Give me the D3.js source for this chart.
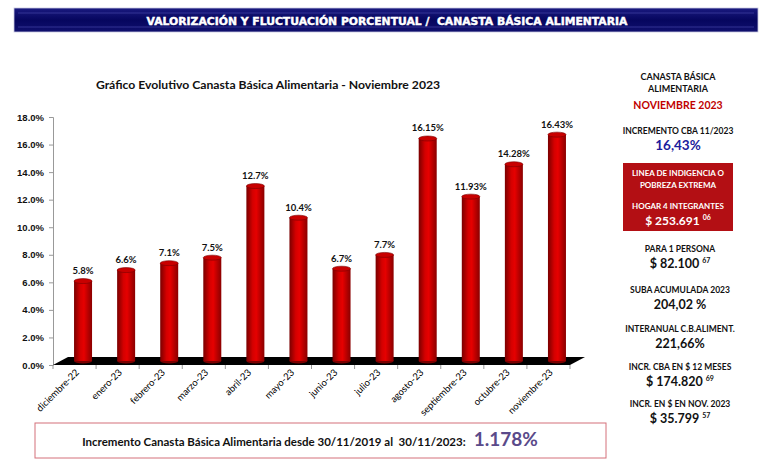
<head>
<script src="https://d3js.org/d3.v7.min.js"></script>
<style>
  body { margin: 0; background: #fff; }
  svg { font-family: Lato, "Open Sans", sans-serif; display: block; }
  .axis path { stroke: #999; }
  .axis line { stroke: #999; }
  .y.axis text { font-weight: bold; font-size: 9.5px; fill: #111; }
  .x.axis text { font-size: 9.5px; fill: #000; }
  .pre { white-space: pre; }
</style>
</head>
<body>
<svg id="chart"></svg>
<script>
// data
var months = ["diciembre-22", "enero-23", "febrero-23", "marzo-23", "abril-23", "mayo-23",
              "junio-23", "julio-23", "agosto-23", "septiembre-23", "octubre-23", "noviembre-23"];
var values = [5.8, 6.6, 7.1, 7.5, 12.7, 10.4, 6.7, 7.7, 16.15, 11.93, 14.28, 16.43];
var valueLabels = ["5.8%", "6.6%", "7.1%", "7.5%", "12.7%", "10.4%", "6.7%", "7.7%",
                   "16.15%", "11.93%", "14.28%", "16.43%"];
var yTicks = [0, 2, 4, 6, 8, 10, 12, 14, 16, 18];

var headerText = "VALORIZACIÓN Y FLUCTUACIÓN PORCENTUAL /  CANASTA BÁSICA ALIMENTARIA";
var chartTitle = "Gráfico Evolutivo Canasta Básica Alimentaria - Noviembre 2023";
var footerLabel = "Incremento Canasta Básica Alimentaria desde 30/11/2019 al  30/11/2023:";
var footerValue = "1.178%";

// right panel: [label, value, superscript]
var panelTop = ["CANASTA BÁSICA", "ALIMENTARIA"];
var panelMonth = "NOVIEMBRE 2023";
var panelIncr = ["INCREMENTO CBA 11/2023", "16,43%"];
var boxLines = ["LINEA DE INDIGENCIA O", "POBREZA EXTREMA", "HOGAR 4 INTEGRANTES"];
var boxValue = ["$ 253.691", "06"];
var panelItems = [
  ["PARA 1 PERSONA", "$ 82.100", "67"],
  ["SUBA ACUMULADA 2023", "204,02 %", ""],
  ["INTERANUAL C.B.ALIMENT.", "221,66%", ""],
  ["INCR. CBA EN $ 12 MESES", "$ 174.820", "69"],
  ["INCR. EN $ EN NOV. 2023", "$ 35.799", "57"]
];

var W = 760, H = 462;
var svg = d3.select("#chart").attr("width", W).attr("height", H);
var defs = svg.append("defs");

// header band
var hg = defs.append("linearGradient").attr("id", "hdr").attr("x1", 0).attr("x2", 0).attr("y1", 0).attr("y2", 1);
hg.append("stop").attr("offset", "0%").attr("stop-color", "#1a1a80");
hg.append("stop").attr("offset", "50%").attr("stop-color", "#06065e");
hg.append("stop").attr("offset", "100%").attr("stop-color", "#10106e");
svg.append("rect").attr("x", 14).attr("y", 8).attr("width", 744).attr("height", 24)
  .attr("fill", "url(#hdr)").attr("stroke", "#c8c8e0").attr("stroke-width", 0.8);
svg.append("line").attr("x1", 18).attr("x2", 754).attr("y1", 13).attr("y2", 13)
  .attr("stroke", "#3c3ca0").attr("stroke-width", 0.8);
svg.append("line").attr("x1", 18).attr("x2", 754).attr("y1", 27).attr("y2", 27)
  .attr("stroke", "#3c3ca0").attr("stroke-width", 0.8);
svg.append("text").attr("class", "pre").attr("x", 387).attr("y", 24.5).attr("text-anchor", "middle")
  .attr("fill", "#fff").attr("stroke", "#fff").attr("stroke-width", 0.45)
  .style("font-family", "'DejaVu Sans', sans-serif")
  .style("font-weight", "bold").style("font-size", "10.8px")
  .text(headerText);

// chart title
svg.append("text").attr("x", 268).attr("y", 89).attr("text-anchor", "middle")
  .style("font-weight", "bold").style("font-size", "12.2px").attr("fill", "#111")
  .text(chartTitle);

var x = d3.scaleBand().domain(months).range([53, 570]);
var y = d3.scaleLinear().domain([0, 18]).range([365, 117]);
var depthX = 15, depthY = -8;

// y axis
svg.append("g").attr("class", "y axis")
  .attr("transform", "translate(53,0)")
  .call(d3.axisLeft(y).tickValues(yTicks).tickSize(4).tickPadding(5)
    .tickFormat(function(d) { return d3.format(".1f")(d) + "%"; }));

// floor
var x0 = x.range()[0], x1 = x.range()[1], yb = y(0);
svg.append("polygon")
  .attr("points", [[x0, yb], [x1, yb], [x1 + depthX, yb + depthY], [x0 + depthX, yb + depthY]].join(" "))
  .attr("fill", "#000");

// x axis ticks at band boundaries
var xa = svg.append("g").attr("class", "x axis");
xa.selectAll("line").data(months.concat([null])).enter().append("line")
  .attr("x1", function(d, i) { return x0 + i * x.bandwidth(); })
  .attr("x2", function(d, i) { return x0 + i * x.bandwidth(); })
  .attr("y1", yb).attr("y2", yb + 4);
xa.selectAll("text").data(months).enter().append("text")
  .attr("text-anchor", "end")
  .attr("transform", function(d) {
    return "translate(" + (x(d) + x.bandwidth() / 2 + 5) + "," + (yb + 8) + ") rotate(-45)";
  })
  .text(function(d) { return d; });

// cylinder bars
var cg = defs.append("linearGradient").attr("id", "cyl");
cg.append("stop").attr("offset", "0%").attr("stop-color", "#7a0000");
cg.append("stop").attr("offset", "35%").attr("stop-color", "#d40000");
cg.append("stop").attr("offset", "55%").attr("stop-color", "#e60000");
cg.append("stop").attr("offset", "100%").attr("stop-color", "#8a0000");

var bw = 18, ry = 2.5;
var bars = svg.append("g").selectAll("g").data(values).enter().append("g");
function cx(i) { return x(months[i]) + x.bandwidth() / 2 + depthX / 2 + 1; }
bars.append("ellipse")
  .attr("cx", function(d, i) { return cx(i); })
  .attr("cy", yb + depthY / 2)
  .attr("rx", bw / 2).attr("ry", ry).attr("fill", "#7a0000");
bars.append("rect")
  .attr("x", function(d, i) { return cx(i) - bw / 2; })
  .attr("y", function(d) { return y(d) + depthY / 2; })
  .attr("width", bw)
  .attr("height", function(d) { return yb - y(d); })
  .attr("fill", "url(#cyl)");
bars.append("ellipse")
  .attr("cx", function(d, i) { return cx(i); })
  .attr("cy", function(d) { return y(d) + depthY / 2; })
  .attr("rx", bw / 2).attr("ry", ry)
  .attr("fill", "#c80000").attr("stroke", "#7a0000").attr("stroke-width", 0.6);
bars.append("text")
  .attr("x", function(d, i) { return cx(i); })
  .attr("y", function(d) { return y(d) + depthY / 2 - 7; })
  .attr("text-anchor", "middle")
  .style("font-weight", "bold").style("font-size", "9.5px").attr("fill", "#111")
  .text(function(d, i) { return valueLabels[i]; });

// right panel
var px = 678;
var p = svg.append("g").attr("text-anchor", "middle").style("font-weight", "bold");
p.selectAll(".pt").data(panelTop).enter().append("text")
  .attr("x", px).attr("y", function(d, i) { return 80 + i * 12; })
  .style("font-size", "9px").attr("fill", "#111").text(function(d) { return d; });
p.append("text").attr("x", px).attr("y", 109).style("font-size", "10.5px")
  .attr("fill", "#c00000").text(panelMonth);
p.append("text").attr("x", px).attr("y", 134).style("font-size", "8.5px")
  .attr("fill", "#111").text(panelIncr[0]);
p.append("text").attr("x", px).attr("y", 150).style("font-size", "13.5px")
  .attr("fill", "#1c1c9c").text(panelIncr[1]);

p.append("rect").attr("x", 623).attr("y", 163).attr("width", 110).attr("height", 68)
  .attr("fill", "#b30f14");
p.selectAll(".bl").data(boxLines).enter().append("text")
  .attr("x", px).attr("y", function(d, i) { return [176, 188, 209][i]; })
  .style("font-size", "8px").attr("fill", "#fff").text(function(d) { return d; });
var bv = p.append("text").attr("x", px).attr("y", 225).style("font-size", "12px").attr("fill", "#fff");
bv.append("tspan").text(boxValue[0]);
bv.append("tspan").attr("dx", 3).attr("dy", -5).style("font-size", "7px").text(boxValue[1]);

var items = p.selectAll(".it").data(panelItems).enter().append("g");
var itemY = [252, 293, 332, 370, 407];
items.append("text").attr("x", px + 2).attr("y", function(d, i) { return itemY[i]; })
  .style("font-size", "8.5px").attr("fill", "#111").text(function(d) { return d[0]; });
var iv = items.append("text").attr("x", px + 2).attr("y", function(d, i) { return itemY[i] + 16; })
  .style("font-size", "12.5px").attr("fill", "#111");
iv.append("tspan").text(function(d) { return d[1]; });
iv.filter(function(d) { return d[2]; }).append("tspan").attr("dx", 3).attr("dy", -5)
  .style("font-size", "7px").text(function(d) { return d[2]; });

// footer box
svg.append("rect").attr("x", 35).attr("y", 423).attr("width", 571).attr("height", 35)
  .attr("fill", "#fff").attr("stroke", "#d4707a").attr("stroke-width", 1);
var ft = svg.append("text").attr("class", "pre").attr("x", 310).attr("y", 446).attr("text-anchor", "middle")
  .style("font-weight", "bold");
ft.append("tspan").style("font-size", "11.5px").attr("fill", "#111").text(footerLabel);
ft.append("tspan").attr("dx", 8).style("font-size", "19px").attr("fill", "#5a4a8a").text(footerValue);
</script>
</body>
